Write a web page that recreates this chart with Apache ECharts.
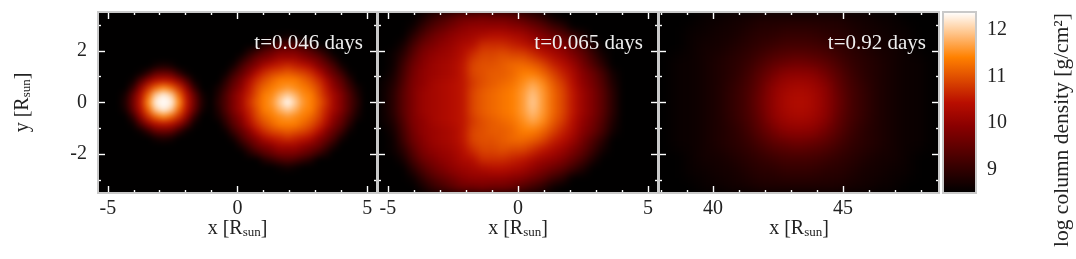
<!DOCTYPE html>
<html><head><meta charset="utf-8">
<script src="https://cdn.jsdelivr.net/npm/echarts@6/dist/echarts.min.js"></script>
<style>html,body{margin:0;padding:0;background:#fff}#c{width:1076px;height:259px}</style>
</head><body><div id="c"></div>
<script>
const panelLabels=['t=0.046 days','t=0.065 days','t=0.92 days'];
const xTickMajor=[[-5,0,5],[-5,0,5],[40,45]];
const xTickMinor=[[-4,-3,-2,-1,1,2,3,4],[-4,-3,-2,-1,1,2,3,4],[38,39,41,42,43,44,46,47,48]];
const xRanges=[[-5.38,5.38],[-5.38,5.38],[37.92,48.7]];
const yRange=[-3.5,3.5];
const yTickMajor=[-2,0,2];
const yTickMinor=[-3,-1,1,3];
const barRange=[8.49,12.39];
const barMajor=[9,10,11,12];
const barMinor=[8.6,8.8,9.2,9.4,9.6,9.8,10.2,10.4,10.6,10.8,11.2,11.4,11.6,11.8,12.2];
const heatColors=['#000000','#2f0000','#5e0000','#8c0000','#b90e00','#dc4800','#ff8100','#ffc082','#ffffff'];
// log column density rows, top to bottom
const density1=[
[8.5,8.5,8.5,8.5,8.5,8.5,8.5,8.5,8.5,8.5,8.5,8.5,8.5,8.5,8.5,8.5,8.5,8.5,8.5,8.5,8.5,8.5,8.5,8.5,8.5,8.5,8.5,8.5,8.5,8.5,8.5,8.5,8.5,8.5,8.5,8.5],
[8.5,8.5,8.5,8.5,8.5,8.5,8.5,8.5,8.5,8.5,8.5,8.5,8.5,8.5,8.5,8.5,8.5,8.5,8.5,8.5,8.5,8.5,8.5,8.5,8.5,8.5,8.5,8.5,8.5,8.5,8.5,8.5,8.5,8.5,8.5,8.5],
[8.5,8.5,8.5,8.5,8.5,8.5,8.5,8.5,8.5,8.5,8.5,8.5,8.5,8.5,8.5,8.5,8.5,8.5,8.5,8.5,8.5,8.5,8.5,8.5,8.5,8.5,8.5,8.5,8.5,8.5,8.5,8.5,8.5,8.5,8.5,8.5],
[8.5,8.5,8.5,8.5,8.5,8.5,8.5,8.5,8.5,8.5,8.5,8.5,8.5,8.5,8.5,8.5,8.5,8.5,8.5,8.5,8.5,8.5,8.5,8.6,8.7,8.6,8.5,8.5,8.5,8.5,8.5,8.5,8.5,8.5,8.5,8.5],
[8.5,8.5,8.5,8.5,8.5,8.5,8.5,8.5,8.5,8.5,8.5,8.5,8.5,8.5,8.5,8.5,8.5,8.5,8.5,8.5,8.5,8.8,9.0,9.2,9.3,9.2,9.0,8.8,8.5,8.5,8.5,8.5,8.5,8.5,8.5,8.5],
[8.5,8.5,8.5,8.5,8.5,8.5,8.5,8.5,8.5,8.5,8.5,8.5,8.5,8.5,8.5,8.5,8.5,8.5,8.5,8.8,9.1,9.4,9.6,9.8,9.8,9.8,9.6,9.4,9.1,8.8,8.5,8.5,8.5,8.5,8.5,8.5],
[8.5,8.5,8.5,8.5,8.5,8.5,8.5,8.5,8.5,8.5,8.5,8.5,8.5,8.5,8.5,8.5,8.5,8.5,8.8,9.2,9.6,9.8,10.0,10.2,10.2,10.2,10.0,9.8,9.6,9.2,8.8,8.5,8.5,8.5,8.5,8.5],
[8.5,8.5,8.5,8.5,8.5,8.5,8.5,8.7,8.8,8.7,8.5,8.5,8.5,8.5,8.5,8.5,8.5,8.7,9.2,9.6,9.9,10.3,10.5,10.6,10.7,10.6,10.5,10.3,9.9,9.6,9.2,8.7,8.5,8.5,8.5,8.5],
[8.5,8.5,8.5,8.5,8.5,8.6,9.0,9.5,9.6,9.5,9.0,8.6,8.5,8.5,8.5,8.5,8.6,9.1,9.5,9.9,10.4,10.7,10.9,11.0,11.1,11.0,10.9,10.7,10.4,9.9,9.5,9.1,8.6,8.5,8.5,8.5],
[8.5,8.5,8.5,8.5,8.6,9.3,10.0,10.4,10.5,10.4,10.0,9.3,8.6,8.5,8.5,8.5,8.9,9.4,9.8,10.3,10.7,11.0,11.2,11.4,11.4,11.4,11.2,11.0,10.7,10.3,9.8,9.4,8.9,8.5,8.5,8.5],
[8.5,8.5,8.5,8.5,9.0,10.0,10.7,11.2,11.5,11.2,10.7,10.0,9.0,8.5,8.5,8.7,9.1,9.6,10.0,10.5,10.9,11.2,11.4,11.5,11.6,11.5,11.4,11.2,10.9,10.5,10.0,9.6,9.1,8.7,8.5,8.5],
[8.5,8.5,8.5,8.7,9.5,10.4,11.2,12.0,12.3,12.0,11.2,10.4,9.5,8.7,8.5,8.8,9.3,9.8,10.2,10.6,11.0,11.4,11.5,11.8,12.0,11.8,11.5,11.4,11.0,10.6,10.2,9.8,9.3,8.8,8.5,8.5],
[8.5,8.5,8.5,8.8,9.6,10.5,11.5,12.3,12.4,12.3,11.5,10.5,9.6,8.8,8.5,8.9,9.3,9.8,10.2,10.7,11.1,11.4,11.6,12.0,12.4,12.0,11.6,11.4,11.1,10.7,10.2,9.8,9.3,8.9,8.5,8.5],
[8.5,8.5,8.5,8.7,9.5,10.4,11.2,12.0,12.3,12.0,11.2,10.4,9.5,8.7,8.5,8.8,9.3,9.8,10.2,10.6,11.0,11.4,11.5,11.8,12.0,11.8,11.5,11.4,11.0,10.6,10.2,9.8,9.3,8.8,8.5,8.5],
[8.5,8.5,8.5,8.5,9.0,10.0,10.7,11.2,11.5,11.2,10.7,10.0,9.0,8.5,8.5,8.7,9.1,9.6,10.0,10.5,10.9,11.2,11.4,11.5,11.6,11.5,11.4,11.2,10.9,10.5,10.0,9.6,9.1,8.7,8.5,8.5],
[8.5,8.5,8.5,8.5,8.6,9.3,10.0,10.4,10.5,10.4,10.0,9.3,8.6,8.5,8.5,8.5,8.9,9.4,9.8,10.3,10.7,11.0,11.2,11.4,11.4,11.4,11.2,11.0,10.7,10.3,9.8,9.4,8.9,8.5,8.5,8.5],
[8.5,8.5,8.5,8.5,8.5,8.6,9.0,9.5,9.6,9.5,9.0,8.6,8.5,8.5,8.5,8.5,8.6,9.1,9.5,9.9,10.4,10.7,10.9,11.0,11.1,11.0,10.9,10.7,10.4,9.9,9.5,9.1,8.6,8.5,8.5,8.5],
[8.5,8.5,8.5,8.5,8.5,8.5,8.5,8.7,8.8,8.7,8.5,8.5,8.5,8.5,8.5,8.5,8.5,8.7,9.2,9.6,9.9,10.3,10.5,10.6,10.7,10.6,10.5,10.3,9.9,9.6,9.2,8.7,8.5,8.5,8.5,8.5],
[8.5,8.5,8.5,8.5,8.5,8.5,8.5,8.5,8.5,8.5,8.5,8.5,8.5,8.5,8.5,8.5,8.5,8.5,8.8,9.2,9.6,9.8,10.0,10.2,10.2,10.2,10.0,9.8,9.6,9.2,8.8,8.5,8.5,8.5,8.5,8.5],
[8.5,8.5,8.5,8.5,8.5,8.5,8.5,8.5,8.5,8.5,8.5,8.5,8.5,8.5,8.5,8.5,8.5,8.5,8.5,8.8,9.1,9.4,9.6,9.8,9.8,9.8,9.6,9.4,9.1,8.8,8.5,8.5,8.5,8.5,8.5,8.5],
[8.5,8.5,8.5,8.5,8.5,8.5,8.5,8.5,8.5,8.5,8.5,8.5,8.5,8.5,8.5,8.5,8.5,8.5,8.5,8.5,8.5,8.8,9.0,9.2,9.3,9.2,9.0,8.8,8.5,8.5,8.5,8.5,8.5,8.5,8.5,8.5],
[8.5,8.5,8.5,8.5,8.5,8.5,8.5,8.5,8.5,8.5,8.5,8.5,8.5,8.5,8.5,8.5,8.5,8.5,8.5,8.5,8.5,8.5,8.5,8.6,8.7,8.6,8.5,8.5,8.5,8.5,8.5,8.5,8.5,8.5,8.5,8.5],
[8.5,8.5,8.5,8.5,8.5,8.5,8.5,8.5,8.5,8.5,8.5,8.5,8.5,8.5,8.5,8.5,8.5,8.5,8.5,8.5,8.5,8.5,8.5,8.5,8.5,8.5,8.5,8.5,8.5,8.5,8.5,8.5,8.5,8.5,8.5,8.5],
[8.5,8.5,8.5,8.5,8.5,8.5,8.5,8.5,8.5,8.5,8.5,8.5,8.5,8.5,8.5,8.5,8.5,8.5,8.5,8.5,8.5,8.5,8.5,8.5,8.5,8.5,8.5,8.5,8.5,8.5,8.5,8.5,8.5,8.5,8.5,8.5],
[8.5,8.5,8.5,8.5,8.5,8.5,8.5,8.5,8.5,8.5,8.5,8.5,8.5,8.5,8.5,8.5,8.5,8.5,8.5,8.5,8.5,8.5,8.5,8.5,8.5,8.5,8.5,8.5,8.5,8.5,8.5,8.5,8.5,8.5,8.5,8.5]
];
const density2=[
[8.5,8.5,8.5,8.5,8.7,9.0,9.2,9.4,9.6,9.6,9.7,9.6,9.6,9.5,9.3,9.1,8.9,8.6,8.5,8.5,8.5,8.5,8.5,8.5,8.5,8.5,8.5,8.5],
[8.5,8.5,8.5,8.6,9.0,9.3,9.5,9.7,9.9,10.0,10.0,10.0,10.0,9.9,9.8,9.6,9.4,9.1,8.9,8.5,8.5,8.5,8.5,8.5,8.5,8.5,8.5,8.5],
[8.5,8.5,8.5,8.9,9.3,9.6,9.8,10.0,10.1,10.2,10.3,10.4,10.4,10.3,10.2,10.0,9.8,9.6,9.4,9.1,8.8,8.5,8.5,8.5,8.5,8.5,8.5,8.5],
[8.5,8.5,8.7,9.2,9.6,9.8,10.0,10.1,10.3,10.4,10.7,10.7,10.7,10.6,10.5,10.3,10.1,10.0,9.8,9.5,9.2,8.8,8.5,8.5,8.5,8.5,8.5,8.5],
[8.5,8.6,8.9,9.4,9.8,10.0,10.1,10.2,10.4,10.7,10.9,10.9,11.0,10.9,10.9,10.7,10.5,10.3,10.1,9.8,9.5,9.1,8.7,8.5,8.5,8.5,8.5,8.5],
[8.5,8.6,9.1,9.6,9.9,10.1,10.2,10.3,10.5,10.9,11.0,11.0,11.1,11.2,11.2,11.1,10.9,10.6,10.4,10.1,9.7,9.3,8.9,8.5,8.5,8.5,8.5,8.5],
[8.5,8.7,9.2,9.7,10.0,10.1,10.2,10.3,10.5,10.9,11.0,11.1,11.1,11.2,11.4,11.4,11.2,10.9,10.6,10.3,9.9,9.6,9.2,8.7,8.5,8.5,8.5,8.5],
[8.6,8.8,9.3,9.8,10.0,10.2,10.3,10.4,10.5,10.8,11.0,11.1,11.2,11.3,11.5,11.7,11.5,11.1,10.8,10.4,10.0,9.7,9.3,8.8,8.5,8.5,8.5,8.5],
[8.6,8.9,9.4,9.8,10.1,10.2,10.3,10.4,10.5,10.9,11.1,11.2,11.3,11.4,11.6,11.9,11.6,11.2,10.9,10.5,10.1,9.8,9.4,8.9,8.5,8.5,8.5,8.5],
[8.6,8.9,9.4,9.8,10.1,10.2,10.3,10.4,10.5,10.9,11.1,11.2,11.3,11.4,11.6,12.0,11.6,11.2,10.9,10.5,10.1,9.8,9.4,8.9,8.5,8.5,8.5,8.5],
[8.6,8.9,9.4,9.8,10.1,10.2,10.3,10.4,10.5,10.9,11.1,11.2,11.3,11.4,11.6,11.9,11.6,11.2,10.9,10.5,10.1,9.8,9.4,8.9,8.5,8.5,8.5,8.5],
[8.6,8.8,9.3,9.8,10.0,10.2,10.3,10.4,10.5,10.8,11.0,11.1,11.2,11.3,11.5,11.7,11.5,11.1,10.8,10.4,10.0,9.7,9.3,8.8,8.5,8.5,8.5,8.5],
[8.5,8.7,9.2,9.7,10.0,10.1,10.2,10.3,10.5,10.9,11.0,11.1,11.1,11.2,11.4,11.4,11.2,10.9,10.6,10.3,9.9,9.6,9.2,8.7,8.5,8.5,8.5,8.5],
[8.5,8.6,9.1,9.6,9.9,10.1,10.2,10.3,10.5,10.9,11.0,11.0,11.1,11.2,11.2,11.1,10.9,10.6,10.4,10.1,9.7,9.3,8.9,8.5,8.5,8.5,8.5,8.5],
[8.5,8.6,8.9,9.4,9.8,10.0,10.1,10.2,10.4,10.7,10.9,10.9,11.0,10.9,10.9,10.7,10.5,10.3,10.1,9.8,9.5,9.1,8.7,8.5,8.5,8.5,8.5,8.5],
[8.5,8.5,8.7,9.2,9.6,9.8,10.0,10.1,10.3,10.4,10.7,10.7,10.7,10.6,10.5,10.3,10.1,10.0,9.8,9.5,9.2,8.8,8.5,8.5,8.5,8.5,8.5,8.5],
[8.5,8.5,8.5,8.9,9.3,9.6,9.8,10.0,10.1,10.2,10.3,10.4,10.4,10.3,10.2,10.0,9.8,9.6,9.4,9.1,8.8,8.5,8.5,8.5,8.5,8.5,8.5,8.5],
[8.5,8.5,8.5,8.6,9.0,9.3,9.5,9.7,9.9,10.0,10.0,10.0,10.0,9.9,9.8,9.6,9.4,9.1,8.9,8.5,8.5,8.5,8.5,8.5,8.5,8.5,8.5,8.5],
[8.5,8.5,8.5,8.5,8.7,9.0,9.2,9.4,9.6,9.6,9.7,9.6,9.6,9.5,9.3,9.1,8.9,8.6,8.5,8.5,8.5,8.5,8.5,8.5,8.5,8.5,8.5,8.5]
];
const density3=[
[8.5,8.5,8.5,8.6,8.6,8.7,8.7,8.8,8.8,8.8,8.8,8.8,8.8,8.8,8.7,8.7,8.6,8.6,8.5,8.5,8.5],
[8.5,8.5,8.6,8.6,8.7,8.7,8.8,8.9,8.9,9.0,9.0,9.0,8.9,8.9,8.8,8.7,8.7,8.6,8.6,8.5,8.5],
[8.5,8.5,8.6,8.7,8.7,8.8,8.9,9.0,9.1,9.2,9.2,9.2,9.1,9.0,8.9,8.8,8.7,8.7,8.6,8.5,8.5],
[8.5,8.6,8.6,8.7,8.8,8.9,9.0,9.2,9.4,9.5,9.6,9.5,9.4,9.2,9.0,8.9,8.8,8.7,8.6,8.6,8.5],
[8.5,8.6,8.6,8.7,8.8,8.9,9.1,9.4,9.7,10.0,10.0,10.0,9.7,9.4,9.1,8.9,8.8,8.7,8.6,8.6,8.5],
[8.5,8.6,8.6,8.7,8.8,9.0,9.2,9.5,10.0,10.2,10.3,10.2,10.0,9.5,9.2,9.0,8.8,8.7,8.6,8.6,8.5],
[8.5,8.6,8.6,8.7,8.8,9.0,9.2,9.6,10.0,10.3,10.4,10.3,10.0,9.6,9.2,9.0,8.8,8.7,8.6,8.6,8.5],
[8.5,8.6,8.6,8.7,8.8,9.0,9.2,9.5,10.0,10.2,10.3,10.2,10.0,9.5,9.2,9.0,8.8,8.7,8.6,8.6,8.5],
[8.5,8.6,8.6,8.7,8.8,8.9,9.1,9.4,9.7,10.0,10.0,10.0,9.7,9.4,9.1,8.9,8.8,8.7,8.6,8.6,8.5],
[8.5,8.6,8.6,8.7,8.8,8.9,9.0,9.2,9.4,9.5,9.6,9.5,9.4,9.2,9.0,8.9,8.8,8.7,8.6,8.6,8.5],
[8.5,8.5,8.6,8.7,8.7,8.8,8.9,9.0,9.1,9.2,9.2,9.2,9.1,9.0,8.9,8.8,8.7,8.7,8.6,8.5,8.5],
[8.5,8.5,8.6,8.6,8.7,8.7,8.8,8.9,8.9,9.0,9.0,9.0,8.9,8.9,8.8,8.7,8.7,8.6,8.6,8.5,8.5],
[8.5,8.5,8.5,8.6,8.6,8.7,8.7,8.8,8.8,8.8,8.8,8.8,8.8,8.8,8.7,8.7,8.6,8.6,8.5,8.5,8.5]
];
const panels=[density1,density2,density3];

const FONT='"Liberation Serif","Times New Roman",serif';
const INK='#222';
const TOP=12,H=181,W=[279,280,280],L=[98,378,659];
const blurPx=[3,4.5,7];
const OVER=3;
const rich={a:{fontSize:20,fontFamily:FONT,color:INK,verticalAlign:'bottom',lineHeight:22},
            b:{fontSize:13,fontFamily:FONT,color:INK,verticalAlign:'bottom',lineHeight:18}};
const RSUN=s=>`{a|${s} [R}{b|sun}{a|]}`;

const tickAxis=(extra,vals,len,color,labels)=>Object.assign({
  type:'value',zlevel:OVER,silent:true,axisLine:{show:false,onZero:false},splitLine:{show:false},
  axisTick:{show:true,inside:true,length:len,customValues:vals,lineStyle:{color,width:1.4}},
  axisLabel:labels?{show:true,customValues:vals,fontFamily:FONT,fontSize:20,color:INK,margin:extra.margin||6,hideOverlap:false,showMinLabel:true,showMaxLabel:true}:{show:false}
},extra);

const grid=[],xAxis=[],yAxis=[],series=[];
panels.forEach((rows,p)=>{
  grid.push({left:L[p],top:TOP,width:W[p],height:H,show:true,backgroundColor:'transparent',borderColor:'#c9c9c9',borderWidth:2,zlevel:OVER,z:5});
  const xCat=xAxis.length,yCat=yAxis.length;
  const xr={min:xRanges[p][0],max:xRanges[p][1],gridIndex:p};
  const yr={min:yRange[0],max:yRange[1],gridIndex:p};
  xAxis.push({type:'category',gridIndex:p,show:false,data:rows[0].map((_,i)=>i)});
  yAxis.push({type:'category',gridIndex:p,show:false,data:rows.map((_,i)=>i)});
  xAxis.push(tickAxis({...xr,position:'bottom',margin:6,name:RSUN('x'),nameLocation:'middle',nameGap:24,nameMoveOverlap:false,nameTextStyle:{rich}},xTickMajor[p],7,'#fff',true));
  xAxis.push(tickAxis({...xr,position:'top'},xTickMajor[p],7,'#fff'));
  xAxis.push(tickAxis({...xr,position:'bottom'},xTickMinor[p],3,'#fff'));
  xAxis.push(tickAxis({...xr,position:'top'},xTickMinor[p],3,'#fff'));
  const leftExtra=p===0?{margin:11,name:RSUN('y'),nameLocation:'middle',nameGap:65,nameMoveOverlap:false,nameRotate:90,nameTextStyle:{rich}}:{};
  yAxis.push(tickAxis({...yr,position:'left',...leftExtra},yTickMajor,7,'#fff',p===0));
  yAxis.push(tickAxis({...yr,position:'right'},yTickMajor,7,'#fff'));
  yAxis.push(tickAxis({...yr,position:'left'},yTickMinor,3,'#fff'));
  yAxis.push(tickAxis({...yr,position:'right'},yTickMinor,3,'#fff'));
  const data=[];
  rows.forEach((row,r)=>row.forEach((v,c)=>data.push([c,rows.length-1-r,v])));
  series.push({type:'heatmap',xAxisIndex:xCat,yAxisIndex:yCat,data,zlevel:p,progressive:0,silent:true,emphasis:{disabled:true}});
});
// colour bar axes
const barGrid=grid.length;
grid.push({left:943,top:TOP,width:33,height:H,show:true,backgroundColor:'transparent',borderColor:'#c9c9c9',borderWidth:2,zlevel:OVER,z:5});
xAxis.push({type:'value',gridIndex:barGrid,show:false,min:0,max:1});
const br={min:barRange[0],max:barRange[1],gridIndex:barGrid};
yAxis.push(tickAxis({...br,position:'right',margin:11},barMajor,7,'#111',true));
yAxis.push(tickAxis({...br,position:'left'},barMajor,7,'#111'));
yAxis.push(tickAxis({...br,position:'right'},barMinor,3,'#111'));
yAxis.push(tickAxis({...br,position:'left'},barMinor,3,'#111'));

const chart=echarts.init(document.getElementById('c'),null,{renderer:'canvas'});
chart.setOption({
  animation:false,backgroundColor:'transparent',tooltip:{show:false},
  grid,xAxis,yAxis,series,
  visualMap:{type:'continuous',min:barRange[0],max:barRange[1],inRange:{color:heatColors},
    left:943,top:TOP,itemWidth:33,itemHeight:H,padding:0,calculable:false,realtime:false,hoverLink:false,text:['',''],textGap:0,showLabel:false,zlevel:OVER,z:2},
  title:[[713,33],[433,33],[150,33]].map(([right,top],i)=>({text:panelLabels[i],right,top,padding:0,zlevel:OVER,z:8,
    textStyle:{color:'#eee',fontFamily:FONT,fontSize:21,fontWeight:'normal'}})),
  graphic:[{type:'text',zlevel:OVER,x:1062,y:130,rotation:Math.PI/2,silent:true,
    style:{text:'log column density [g/cm²]',fontFamily:FONT,fontSize:21.5,fill:INK,align:'center',verticalAlign:'middle'}}]
});
// smooth the cell mosaics, one canvas layer per panel, clipped to that panel
panels.forEach((_,p)=>{
  const cv=document.querySelector(`canvas[data-zr-dom-id="zr_${p}"]`);
  if(!cv)return;
  cv.style.background='#000';
  cv.style.filter=`blur(${blurPx[p]}px)`;
  const right=1076-(L[p]+W[p]),bottom=259-(TOP+H);
  cv.style.clipPath=`inset(${TOP}px ${right}px ${bottom}px ${L[p]}px)`;
});
</script></body></html>
